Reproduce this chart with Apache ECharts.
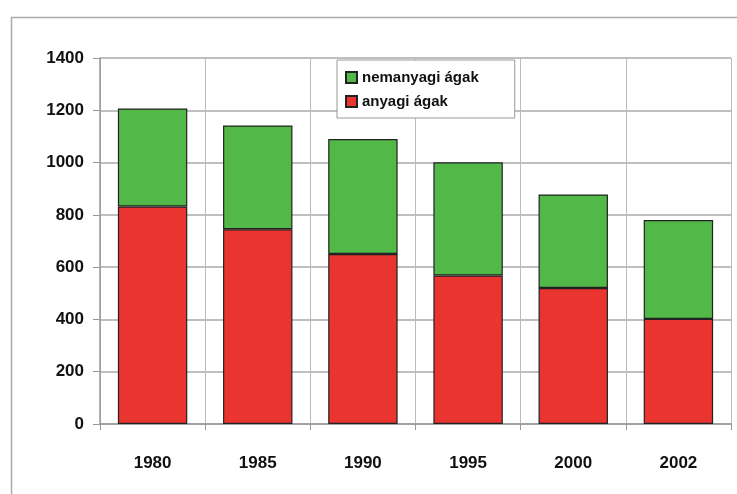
<!DOCTYPE html>
<html>
<head>
<meta charset="utf-8">
<script src="https://cdn.jsdelivr.net/npm/echarts@6/dist/echarts.min.js"></script>
<style>
    html, body { margin: 0; padding: 0; background: #fff; }
    #chart-box { width: 737px; height: 494px; }
</style>
</head>
<body>
<div id="chart-box"></div>
<script>
    // years on the x axis
    const years = ['1980', '1985', '1990', '1995', '2000', '2002'];
    // material branches (red, bottom)
    const anyagi = [832, 745, 650, 568, 520, 402];
    // non-material branches (green, stacked on top)
    const nemanyagi = [375, 397, 440, 433, 358, 378];

    const labelFont = 'Liberation Sans, Arial, sans-serif';

    let chart = echarts.init(document.getElementById('chart-box'));

    let option = {
        animation: false,
        graphic: [
            {
                type: 'rect',
                left: 9, top: 15,
                shape: {width: 740, height: 490},
                style: {fill: 'none', stroke: '#aaa', lineWidth: 1.5},
                z: -1
            }
        ],
        grid: {left: 100, right: 6, top: 58, bottom: 70},
        legend: {
            orient: 'vertical',
            left: 337, top: 60,
            itemWidth: 11, itemHeight: 11,
            itemGap: 9,
            padding: [10, 36, 9, 8],
            borderColor: '#999',
            borderWidth: 1,
            backgroundColor: '#fff',
            icon: 'rect',
            textStyle: {
                fontFamily: labelFont,
                fontWeight: 'bold',
                fontSize: 15,
                color: '#111'
            },
            data: ['nemanyagi ágak', 'anyagi ágak']
        },
        xAxis: {
            type: 'category',
            data: years,
            axisLine: {lineStyle: {color: '#999', width: 1.5}},
            axisTick: {show: true, length: 6, lineStyle: {color: '#999'}},
            splitLine: {show: true, lineStyle: {color: '#bbb', width: 1}},
            axisLabel: {
                margin: 31,
                fontFamily: labelFont,
                fontWeight: 'bold',
                fontSize: 17,
                color: '#111'
            }
        },
        yAxis: {
            type: 'value',
            min: 0, max: 1400, interval: 200,
            axisLine: {show: true, lineStyle: {color: '#999', width: 1.5}},
            axisTick: {show: true, length: 7, lineStyle: {color: '#999'}},
            splitLine: {lineStyle: {color: '#aaa', width: 1.5}},
            axisLabel: {
                margin: 16,
                fontFamily: labelFont,
                fontWeight: 'bold',
                fontSize: 17,
                color: '#111',
                formatter: function (v) { return String(v); }
            }
        },
        series: [
            {
                name: 'anyagi ágak',
                type: 'bar',
                stack: 'total',
                barWidth: '66%',
                data: anyagi,
                itemStyle: {color: '#ea3430', borderColor: '#222', borderWidth: 1.2}
            },
            {
                name: 'nemanyagi ágak',
                type: 'bar',
                stack: 'total',
                barWidth: '66%',
                data: nemanyagi,
                itemStyle: {color: '#52b848', borderColor: '#222', borderWidth: 1.2}
            }
        ]
    };

    chart.setOption(option);
</script>
</body>
</html>
